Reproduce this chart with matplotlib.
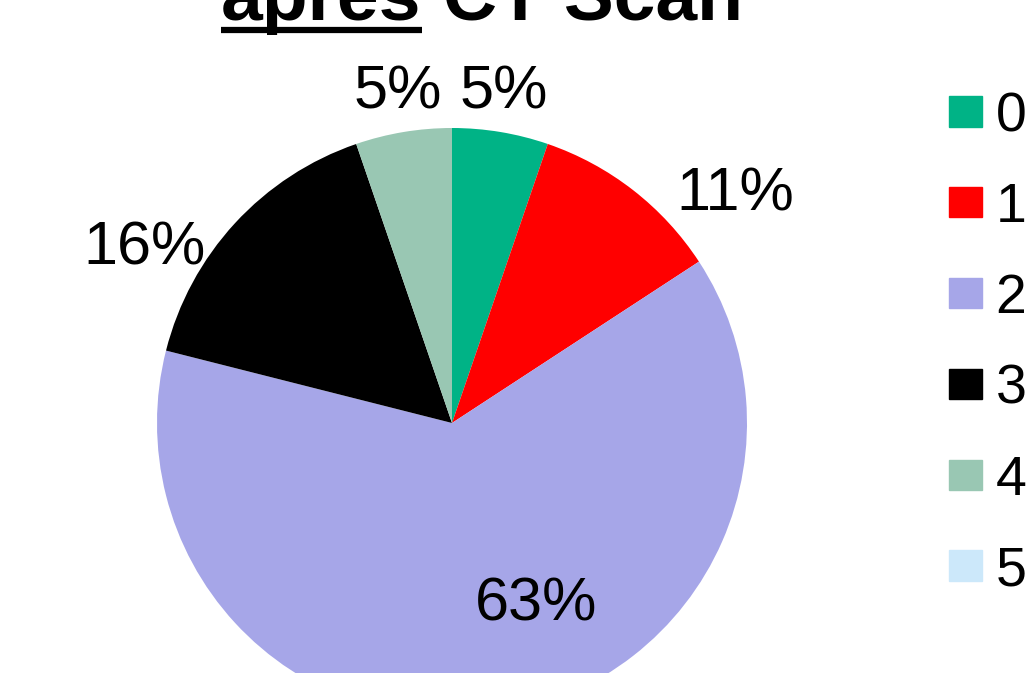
import numpy as np
import matplotlib.pyplot as plt
from matplotlib.patches import Patch

plt.rcParams['font.family'] = ['Liberation Sans', 'DejaVu Sans']

# counts per score (19 patients)
categories = ['0', '1', '2', '3', '4', '5']
counts = [1, 2, 12, 3, 1, 0]
colors = ['#00B386', '#FF0000', '#A6A6E8', '#000000', '#99C7B3', '#CCE8FA']

# label placement (distance from centre, angle shift in degrees)
label_dist = [1.154, 1.247, 0.66, 1.209, 1.156, None]
label_shift = [0.7, -12.5, 16.2, 12.2, -0.3, 0]

fig = plt.figure(figsize=(10.3, 6.73), dpi=100)
ax = fig.add_axes([0, 0, 1, 1])
ax.set_aspect('equal')
ax.axis('off')

wedges, _ = ax.pie(counts, colors=colors, startangle=90, counterclock=False,
                   wedgeprops=dict(linewidth=0))

# pie centre at (452, 423) px, radius 295 px
ax.set_xlim(-452 / 295, (1030 - 452) / 295)
ax.set_ylim(-(673 - 423) / 295, 423 / 295)

total = sum(counts)
for w, n, d, s in zip(wedges, counts, label_dist, label_shift):
    if n == 0:
        continue
    ang = np.deg2rad((w.theta1 + w.theta2) / 2 + s)
    ax.text(d * np.cos(ang), d * np.sin(ang), '%.0f%%' % (100 * n / total),
            fontsize=44, ha='center', va='center_baseline')

handles = [Patch(color=c, label=l) for c, l in zip(colors, categories)]
fig.legend(handles=handles, loc='upper left', bbox_to_anchor=(949 / 1030, 1 - 91 / 673),
           frameon=False, fontsize=40, handlelength=0.59, handleheight=0.47,
           handletextpad=0.25, labelspacing=0.7, borderpad=0, borderaxespad=0)

# title, first word underlined
y_base = 1 - 20 / 673
t1 = fig.text(221 / 1030, y_base, 'après', fontsize=54, fontweight='bold',
              ha='left', va='baseline')
fig.canvas.draw()
bb = t1.get_window_extent()
fig.text(bb.x1 / 1030, y_base, ' CT Scan', fontsize=54, fontweight='bold',
         ha='left', va='baseline')
fig.add_artist(plt.Line2D([bb.x0 / 1030, bb.x1 / 1030], [1 - 30 / 673] * 2,
                          color='black', linewidth=4.5, solid_capstyle='butt'))

fig.savefig('out.png', dpi=100)
